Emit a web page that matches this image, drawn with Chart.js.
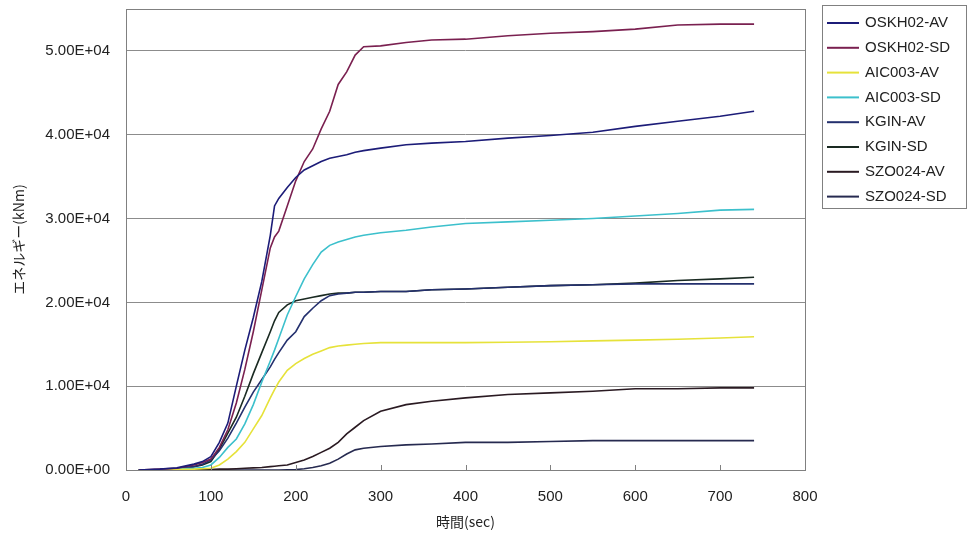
<!DOCTYPE html>
<html>
<head>
<meta charset="utf-8">
<script src="https://cdn.jsdelivr.net/npm/chart.js@4/dist/chart.umd.min.js"></script>
<style>
  html, body { margin: 0; padding: 0; background: #fff; }
  #wrap { width: 968px; height: 535px; }
</style>
</head>
<body>
<div id="wrap"><canvas id="energyChart" width="968" height="535"></canvas></div>
<script>
// 時間 (sec) - 全系列共通
const times = [15, 40, 60, 80, 90, 100, 110, 120, 130, 140, 150, 160, 170, 175, 180, 190, 200, 210, 220, 230, 240, 250, 260, 270, 280, 300, 330, 360, 400, 450, 500, 550, 600, 650, 700, 740];

// エネルギー (kNm) - 図から読み取り
const oskh02Av = [0, 100, 250, 700, 1000, 1600, 3300, 5600, 10000, 14300, 18200, 22500, 28000, 31500, 32400, 33700, 34900, 35800, 36300, 36800, 37200, 37400, 37600, 37900, 38100, 38400, 38800, 39000, 39200, 39600, 39900, 40300, 41000, 41600, 42200, 42800];
const oskh02Sd = [0, 100, 200, 600, 900, 1300, 2700, 4800, 8000, 12000, 16500, 21500, 26500, 27800, 28500, 31500, 34500, 36800, 38300, 40700, 42800, 46000, 47500, 49500, 50500, 50600, 51000, 51300, 51400, 51800, 52100, 52300, 52600, 53100, 53200, 53200];
const aic003Av = [0, 0, 50, 100, 150, 200, 600, 1300, 2200, 3300, 4900, 6500, 8600, 9600, 10500, 11900, 12700, 13300, 13800, 14200, 14600, 14800, 14900, 15000, 15100, 15200, 15200, 15200, 15200, 15250, 15300, 15400, 15500, 15600, 15750, 15900];
const aic003Sd = [0, 50, 100, 200, 300, 600, 1500, 2700, 3700, 5500, 7800, 10500, 13000, 14300, 15700, 18500, 20700, 22800, 24500, 26000, 26800, 27200, 27500, 27800, 28000, 28300, 28600, 29000, 29400, 29600, 29800, 30000, 30300, 30600, 31000, 31100];
const kginAv = [0, 50, 150, 400, 700, 1200, 2300, 3800, 5600, 7500, 9300, 10800, 12300, 13200, 14000, 15500, 16500, 18300, 19300, 20200, 20800, 21000, 21100, 21200, 21200, 21300, 21300, 21500, 21600, 21800, 22000, 22100, 22200, 22200, 22200, 22200];
const kginSd = [0, 50, 150, 400, 600, 1000, 2500, 4400, 6300, 8800, 11500, 14000, 16500, 17800, 18800, 19700, 20200, 20400, 20600, 20800, 21000, 21100, 21100, 21200, 21200, 21300, 21300, 21500, 21600, 21800, 22000, 22100, 22300, 22600, 22800, 23000];
const szo024Av = [0, 0, 0, 0, 50, 50, 100, 100, 150, 200, 250, 300, 400, 450, 500, 600, 900, 1200, 1600, 2100, 2600, 3300, 4300, 5100, 5900, 7000, 7800, 8200, 8600, 9000, 9200, 9400, 9700, 9700, 9800, 9800];
const szo024Sd = [0, 0, 0, 0, 0, 0, 0, 0, 0, 0, 0, 0, 0, 0, 0, 20, 50, 150, 300, 500, 800, 1300, 1900, 2400, 2600, 2800, 3000, 3100, 3300, 3300, 3400, 3500, 3500, 3500, 3500, 3500];

const seriesNames = ["OSKH02-AV", "OSKH02-SD", "AIC003-AV", "AIC003-SD", "KGIN-AV", "KGIN-SD", "SZO024-AV", "SZO024-SD"];
const seriesValues = [oskh02Av, oskh02Sd, aic003Av, aic003Sd, kginAv, kginSd, szo024Av, szo024Sd];
const seriesColors = ["#1c1c78", "#7a2050", "#e6e23a", "#3cc0cc", "#24306e", "#1a2a22", "#2a1a22", "#262a50"];

const xTicks = [0, 100, 200, 300, 400, 500, 600, 700, 800];
const yTicks = [0, 10000, 20000, 30000, 40000, 50000];

// 指数表記 (例: 5.00E+04)
function fmtExp(v) {
  if (v === 0) return "0.00E+00";
  const exp = Math.floor(Math.log10(Math.abs(v)));
  const man = v / Math.pow(10, exp);
  const sign = exp < 0 ? "-" : "+";
  return man.toFixed(2) + "E" + sign + String(Math.abs(exp)).padStart(2, "0");
}

// 枠線と内向きの目盛り
const framePlugin = {
  id: "frame",
  afterDatasetsDraw(chart) {
    const { ctx, chartArea: a, scales } = chart;
    ctx.save();
    ctx.strokeStyle = "#808080";
    ctx.lineWidth = 1;
    ctx.strokeRect(Math.round(a.left) + 0.5, Math.round(a.top) + 0.5, Math.round(a.right - a.left), Math.round(a.bottom - a.top));
    ctx.beginPath();
    xTicks.forEach((t) => {
      const px = Math.round(scales.x.getPixelForValue(t)) + 0.5;
      ctx.moveTo(px, a.bottom);
      ctx.lineTo(px, a.bottom - 5);
    });
    ctx.stroke();
    ctx.restore();
  },
};

// 凡例 (右上の枠付き)
const legendBoxPlugin = {
  id: "legendBox",
  afterDraw(chart) {
    const { ctx } = chart;
    ctx.save();
    ctx.strokeStyle = "#808080";
    ctx.lineWidth = 1;
    ctx.strokeRect(822.5, 5.5, 144, 203);
    ctx.font = "15px 'Liberation Sans', Arial, sans-serif";
    ctx.textBaseline = "middle";
    ctx.fillStyle = "#222";
    chart.data.datasets.forEach((ds, i) => {
      const y = 23 + i * 24.8;
      ctx.strokeStyle = ds.borderColor;
      ctx.lineWidth = 2;
      ctx.beginPath();
      ctx.moveTo(827, y);
      ctx.lineTo(859, y);
      ctx.stroke();
      ctx.fillText(ds.label, 865, y);
    });
    ctx.restore();
  },
};

const datasets = seriesNames.map((name, i) => ({
  label: name,
  data: times.map((t, j) => ({ x: t, y: seriesValues[i][j] })),
  borderColor: seriesColors[i],
  backgroundColor: seriesColors[i],
  borderWidth: 1.6,
  pointRadius: 0,
  tension: 0,
  fill: false,
}));

new Chart(document.getElementById("energyChart"), {
  type: "line",
  data: { datasets },
  options: {
    responsive: false,
    animation: false,
    events: [],
    layout: { padding: { top: 9, right: 163, left: 0, bottom: 0 } },
    plugins: { legend: { display: false }, tooltip: { enabled: false } },
    scales: {
      x: {
        type: "linear",
        min: 0,
        max: 800,
        afterBuildTicks: (s) => { s.ticks = xTicks.map((v) => ({ value: v })); },
        afterFit: (s) => {
          s.height = 65;
          s.paddingLeft = 0;
          s.paddingRight = 0;
        },
        grid: { drawOnChartArea: false, drawTicks: false },
        border: { display: false },
        ticks: {
          padding: 18,
          color: "#222",
          font: { family: "'Liberation Sans', Arial, sans-serif", size: 15 },
          maxRotation: 0,
        },
        title: {
          display: true,
          text: "時間(sec)",
          color: "#222",
          font: { family: "'Noto Sans CJK JP', sans-serif", size: 14 },
          padding: { top: 4, bottom: 5 },
        },
      },
      y: {
        min: 0,
        max: 55000,
        afterBuildTicks: (s) => { s.ticks = yTicks.map((v) => ({ value: v })); },
        afterFit: (s) => {
          s.width = 126;
          s.paddingTop = 0;
          s.paddingBottom = 0;
        },
        grid: { color: "#8c8c8c", lineWidth: 1, drawTicks: false },
        border: { display: false },
        ticks: {
          padding: 16,
          color: "#222",
          font: { family: "'Liberation Sans', Arial, sans-serif", size: 15 },
          callback: (v) => fmtExp(v),
        },
        title: {
          display: true,
          text: "エネルギー(kNm)",
          color: "#222",
          font: { family: "'Noto Sans CJK JP', sans-serif", size: 14 },
          padding: { top: 10, bottom: 0 },
        },
      },
    },
  },
  plugins: [framePlugin, legendBoxPlugin],
});
</script>
</body>
</html>
